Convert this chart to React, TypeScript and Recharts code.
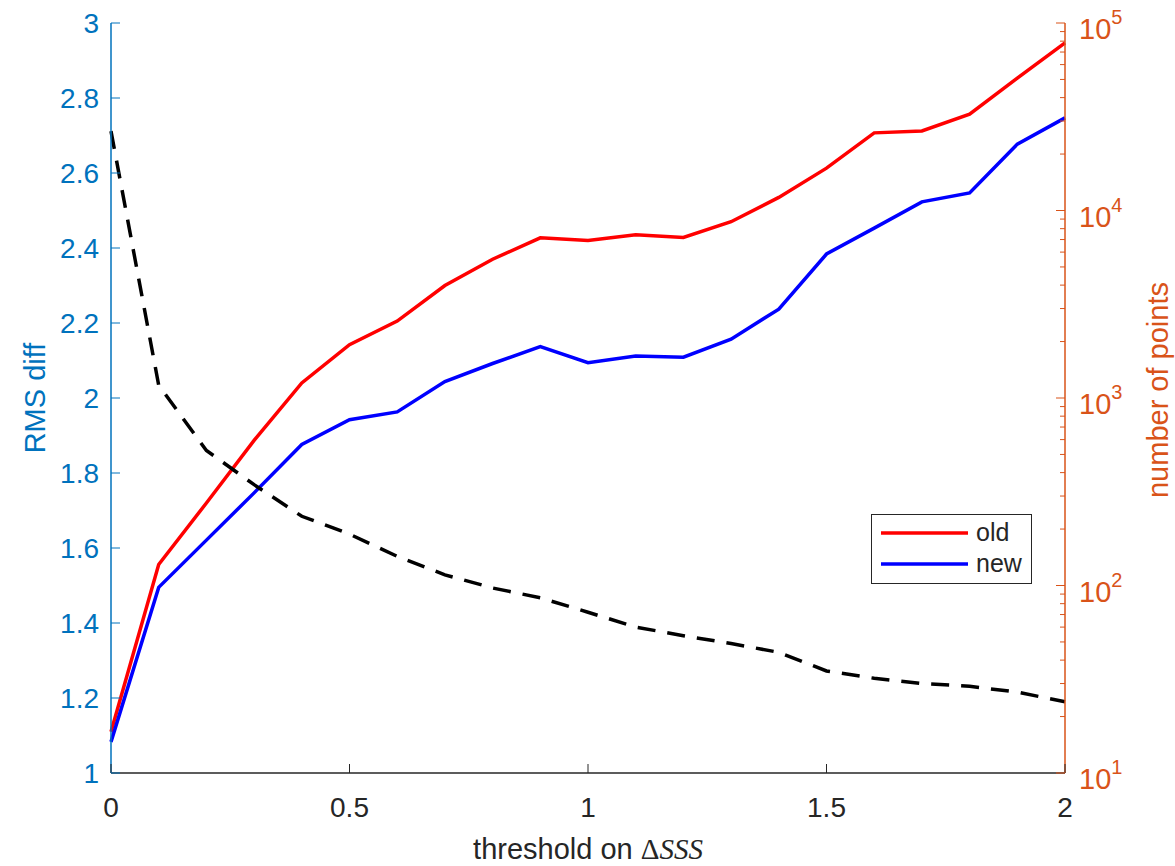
import React from "react";
import {
  LineChart,
  Line,
  XAxis,
  YAxis,
  Legend,
} from "recharts";

// threshold on ΔSSS
const thresholds = [0, 0.1, 0.2, 0.3, 0.4, 0.5, 0.6, 0.7, 0.8, 0.9, 1, 1.1, 1.2, 1.3, 1.4, 1.5, 1.6, 1.7, 1.8, 1.9, 2];
// RMS diff (left axis)
const rmsOld = [1.11, 1.556, 1.72, 1.887, 2.04, 2.142, 2.205, 2.3, 2.37, 2.427, 2.42, 2.435, 2.428, 2.47, 2.535, 2.613, 2.707, 2.712, 2.757, 2.853, 2.947];
const rmsNew = [1.083, 1.495, 1.621, 1.747, 1.876, 1.942, 1.963, 2.044, 2.092, 2.137, 2.094, 2.112, 2.109, 2.157, 2.237, 2.384, 2.453, 2.523, 2.547, 2.677, 2.747];
// number of points (right axis, log)
const numPoints = [26500, 1170, 525, 345, 234, 188, 143, 114, 97, 86, 72, 60, 54, 49, 44, 35, 32, 30, 29, 27, 24];

const xTicks = [0, 0.5, 1, 1.5, 2];
const leftTicks = [1, 1.2, 1.4, 1.6, 1.8, 2, 2.2, 2.4, 2.6, 2.8, 3];
const rightMajor = [10, 100, 1000, 10000, 100000];
const rightMinorSteps = [2, 3, 4, 5, 6, 7, 8, 9];
const legendOrder = ["old", "new"];

const LEFT_COLOR = "#0072BD";
const RIGHT_COLOR = "#D95319";
const AXIS_DARK = "#262626";
const FONT = "'Liberation Sans', Arial, sans-serif";

const rightTicks = rightMajor.concat(
  rightMajor.slice(0, -1).flatMap((m) => rightMinorSteps.map((s) => m * s))
);

const data = thresholds.map((t, i) => ({
  t,
  old: rmsOld[i],
  new: rmsNew[i],
  points: numPoints[i],
}));

function LeftTick({ x, y, payload }: any) {
  return (
    <g>
      <line x1={x} x2={x + 9} y1={y} y2={y} stroke={LEFT_COLOR} />
      <text x={x - 12} y={y + 10} textAnchor="end" fill={LEFT_COLOR} fontSize={28} fontFamily={FONT}>
        {String(payload.value)}
      </text>
    </g>
  );
}

function RightTick({ x, y, payload }: any) {
  const major = rightMajor.includes(payload.value);
  const exp = Math.round(Math.log10(payload.value));
  return (
    <g>
      <line x1={x} x2={x - (major ? 9 : 5)} y1={y} y2={y} stroke={RIGHT_COLOR} />
      {major && (
        <text x={x + 14} y={y + 16} fill={RIGHT_COLOR} fontSize={29} fontFamily={FONT}>
          10
          <tspan dy={-15} fontSize={20}>{exp}</tspan>
        </text>
      )}
    </g>
  );
}

function BottomTick({ x, y, payload }: any) {
  return (
    <g>
      <line x1={x} x2={x} y1={y} y2={y - 9} stroke={AXIS_DARK} />
      <text x={x} y={y + 44} textAnchor="middle" fill={AXIS_DARK} fontSize={28} fontFamily={FONT}>
        {String(payload.value)}
      </text>
    </g>
  );
}

function LegendBox({ payload }: any) {
  const items = legendOrder
    .map((name) => (payload || []).find((p: any) => p.value === name))
    .filter(Boolean);
  return (
    <div
      style={{
        width: 159,
        height: 68,
        border: `1px solid ${AXIS_DARK}`,
        background: "#fff",
        position: "relative",
      }}
    >
      <svg width={159} height={68} style={{ position: "absolute", left: 0, top: 0 }}>
        {items.map((p: any, i: number) => {
          const cy = 18 + i * 31;
          return (
            <g key={p.value}>
              <line x1={9} x2={96} y1={cy} y2={cy} stroke={p.color} strokeWidth={3.5} />
              <text x={104} y={cy + 8} fontSize={25} fill={AXIS_DARK} fontFamily={FONT}>
                {p.value}
              </text>
            </g>
          );
        })}
      </svg>
    </div>
  );
}

export default function App() {
  return (
    <div style={{ position: "absolute", left: 0, top: 0, background: "#fff", fontFamily: FONT }}>
      <LineChart
        width={1175}
        height={866}
        data={data}
        margin={{ top: 23, right: 0, bottom: 0, left: 0 }}
      >
        <XAxis
          dataKey="t"
          type="number"
          domain={[0, 2]}
          ticks={xTicks}
          interval={0}
          height={93}
          tickSize={0}
          tickMargin={0}
          tickLine={false}
          axisLine={{ stroke: AXIS_DARK, strokeWidth: 1.5 }}
          tick={<BottomTick />}
          label={({ viewBox }: any) => (
            <text
              x={viewBox.x + viewBox.width / 2}
              y={viewBox.y + 86}
              textAnchor="middle"
              fontSize={29}
              fill={AXIS_DARK}
              fontFamily={FONT}
            >
              threshold on{" "}
              <tspan fontFamily="'Liberation Serif', serif">Δ</tspan>
              <tspan fontFamily="'Liberation Serif', serif" fontStyle="italic">SSS</tspan>
            </text>
          )}
        />
        <YAxis
          yAxisId="left"
          orientation="left"
          type="number"
          domain={[1, 3]}
          ticks={leftTicks}
          interval={0}
          width={111}
          tickSize={0}
          tickMargin={0}
          tickLine={false}
          axisLine={{ stroke: LEFT_COLOR, strokeWidth: 1.5 }}
          tick={<LeftTick />}
          label={() => (
            <text
              x={35}
              y={398}
              transform="rotate(-90, 35, 398)"
              textAnchor="middle"
              dominantBaseline="central"
              fontSize={29}
              fill={LEFT_COLOR}
              fontFamily={FONT}
            >
              RMS diff
            </text>
          )}
        />
        <YAxis
          yAxisId="right"
          orientation="right"
          type="number"
          scale="log"
          domain={[10, 100000]}
          allowDataOverflow
          ticks={rightTicks}
          interval={0}
          width={110}
          tickSize={0}
          tickMargin={0}
          tickLine={false}
          axisLine={{ stroke: RIGHT_COLOR, strokeWidth: 1.5 }}
          tick={<RightTick />}
          label={() => (
            <text
              x={1158}
              y={390}
              transform="rotate(-90, 1158, 390)"
              textAnchor="middle"
              dominantBaseline="central"
              fontSize={29}
              fill={RIGHT_COLOR}
              fontFamily={FONT}
            >
              number of points
            </text>
          )}
        />
        <Legend
          layout="vertical"
          align="center"
          verticalAlign="middle"
          content={<LegendBox />}
          wrapperStyle={{ position: "absolute", left: 871, top: 514, width: 161, height: 70 }}
        />
        <Line
          yAxisId="left"
          dataKey="old"
          name="old"
          type="linear"
          stroke="#FF0000"
          strokeWidth={3.5}
          dot={false}
          isAnimationActive={false}
        />
        <Line
          yAxisId="left"
          dataKey="new"
          name="new"
          type="linear"
          stroke="#0000FF"
          strokeWidth={3.5}
          dot={false}
          isAnimationActive={false}
        />
        <Line
          yAxisId="right"
          dataKey="points"
          name="points"
          type="linear"
          stroke="#000000"
          strokeWidth={3.5}
          strokeDasharray="18 12"
          dot={false}
          legendType="none"
          isAnimationActive={false}
        />
      </LineChart>
    </div>
  );
}
